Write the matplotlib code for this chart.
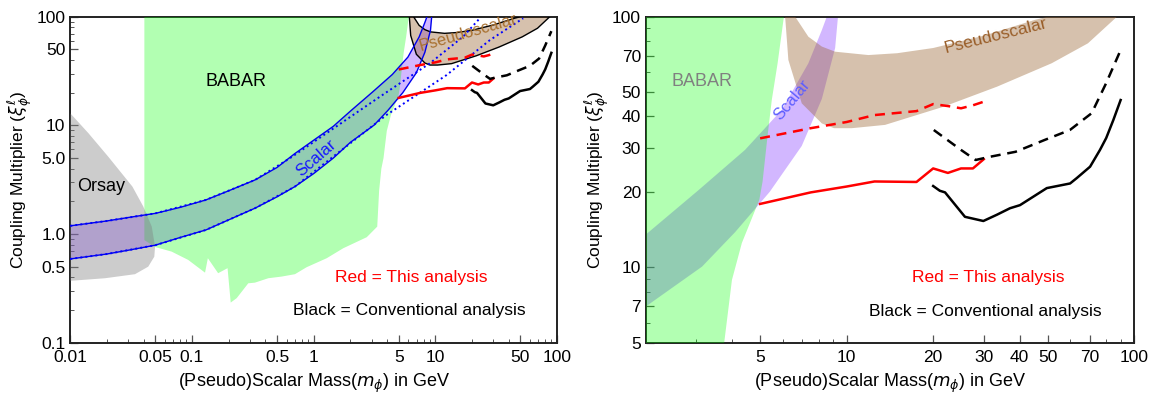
import numpy as np
import matplotlib.pyplot as plt
from matplotlib.ticker import FixedLocator, FixedFormatter, LogLocator, NullFormatter

plt.rcParams['font.family'] = ['Liberation Sans', 'DejaVu Sans']
plt.rcParams['mathtext.fontset'] = 'dejavusans'

# ---- data (GeV, coupling multiplier) ----
# Orsay excluded region
orsay_x = [0.01, 0.0141, 0.0205, 0.0324, 0.0398, 0.0467, 0.0497, 0.049, 0.0437, 0.034, 0.0193, 0.01]
orsay_y = [12.9, 8.46, 5.15, 2.73, 1.79, 1.17, 0.766, 0.619, 0.501, 0.427, 0.392, 0.371]

# BABAR excluded region (outline, clockwise from top left)
babar_x = [0.0406, 0.0406, 0.0497, 0.068, 0.093, 0.128, 0.135, 0.164, 0.196, 0.208, 0.233,
           0.290, 0.329, 0.424, 0.546, 0.702, 0.875, 1.28, 1.75, 2.73, 3.33, 3.45, 3.6,
           3.75, 3.99, 4.32, 4.97, 5.1, 5.3, 5.49, 5.75, 6.05]
babar_y = [100, 0.88, 0.76, 0.689, 0.578, 0.441, 0.599, 0.436, 0.485, 0.234, 0.257,
           0.352, 0.357, 0.392, 0.406, 0.427, 0.495, 0.599, 0.74, 0.935, 1.17, 2.5, 4.0,
           5.0, 8.9, 12.5, 18.6, 22.0, 33.0, 46.5, 65.0, 100]

# Scalar band edges
scalar_hi_x = [0.01, 0.02, 0.03, 0.05, 0.08, 0.13, 0.2, 0.33, 0.5, 0.7, 1.0, 1.45, 2.0,
               3.05, 4.43, 5.95, 7.36, 8.2, 8.53]
scalar_hi_y = [1.19, 1.32, 1.42, 1.55, 1.76, 2.06, 2.5, 3.15, 4.1, 5.5, 7.3, 9.8, 13.5,
               20.3, 29.4, 42.5, 65.2, 88.5, 100]
scalar_lo_x = [0.01, 0.02, 0.03, 0.05, 0.08, 0.13, 0.2, 0.33, 0.5, 0.7, 1.0, 1.45, 2.0,
               3.14, 4.09, 5.4, 6.98, 8.2, 9.12, 9.33]
scalar_lo_y = [0.59, 0.655, 0.71, 0.79, 0.93, 1.09, 1.35, 1.73, 2.2, 2.73, 3.6, 5.0, 6.97,
               10.06, 13.8, 20.0, 30.5, 47.0, 75.0, 100]

# dotted scalar curves (left panel)
dotA_x = [0.01, 0.02, 0.05, 0.13, 0.33, 0.64, 3.51, 9.03, 16.9, 23.2]
dotA_y = [1.19, 1.32, 1.55, 2.06, 3.15, 5.0, 18.4, 37.3, 65.5, 96.7]
dotB_x = [0.01, 0.02, 0.05, 0.13, 0.33, 0.7, 3.98, 12.4, 28.1, 52.7]
dotB_y = [0.59, 0.655, 0.79, 1.09, 1.73, 2.73, 12.5, 29.1, 61.0, 96.7]

# Pseudoscalar band edges
pseudo_hi_x = [6.62, 7.36, 8.2, 9.12, 11.9, 15.0, 20.0, 30.0, 45.0, 50.0]
pseudo_hi_y = [100, 83.2, 76.0, 72.5, 70.3, 71.5, 75.0, 84.0, 97.0, 100]
pseudo_lo_x = [6.11, 6.27, 6.98, 8.2, 9.04, 10.42, 13.6, 21.7, 33.4, 51.7, 69.1, 87.2]
pseudo_lo_y = [100, 67.2, 45.1, 37.5, 35.9, 35.9, 37.0, 43.7, 52.6, 65.2, 78.3, 100]

# this analysis (red)
red_solid_x = [5, 7.5, 10, 12.5, 17.5, 20, 22.5, 25, 27.5, 30]
red_solid_y = [17.9, 19.9, 21.0, 22.0, 21.9, 24.8, 23.8, 24.8, 24.8, 27.0]
red_dash_x = [5, 7.5, 10, 12.5, 17.5, 20, 22.5, 25, 27.5, 30]
red_dash_y = [32.7, 35.9, 38.0, 40.5, 42.0, 44.8, 44.0, 43.1, 44.3, 45.8]

# conventional analysis (black)
black_solid_x = [20.0, 21.1, 22.0, 25.8, 29.9, 33.3, 37.0, 40.1, 49.7, 59.9, 63.2, 70.3, 76.1, 80.0, 84.7, 89.8]
black_solid_y = [21.1, 20.2, 19.9, 15.9, 15.3, 16.2, 17.2, 17.7, 20.7, 21.6, 22.7, 25.2, 29.4, 32.8, 38.7, 46.5]
black_dash_x = [20.1, 25.0, 28.1, 31.5, 38.7, 48.8, 59.8, 71.2, 79.9, 89.8]
black_dash_y = [35.3, 29.4, 26.8, 27.6, 28.9, 32.2, 35.3, 41.2, 54.2, 73.6]

GREEN = (0.0, 1.0, 0.0)
PURPLE = (0.5, 0.2, 1.0)
BROWN = (0.6, 0.4, 0.2)
GRAY = (0.5, 0.5, 0.5)


def band_poly(xh, yh, xl, yl):
    return list(xh) + list(xl[::-1]), list(yh) + list(yl[::-1])


def style_axes(ax, xmaj, xlab, ymaj, ylab):
    ax.set_xscale('log')
    ax.set_yscale('log')
    ax.xaxis.set_major_locator(FixedLocator(xmaj))
    ax.xaxis.set_major_formatter(FixedFormatter(xlab))
    ax.yaxis.set_major_locator(FixedLocator(ymaj))
    ax.yaxis.set_major_formatter(FixedFormatter(ylab))
    ax.xaxis.set_minor_locator(LogLocator(base=10, subs=np.arange(2, 10), numticks=20))
    ax.yaxis.set_minor_locator(LogLocator(base=10, subs=np.arange(2, 10), numticks=20))
    ax.xaxis.set_minor_formatter(NullFormatter())
    ax.yaxis.set_minor_formatter(NullFormatter())
    ax.tick_params(which='both', direction='in', top=False, right=False, labelsize=12.5,
                   color='#555555')
    ax.tick_params(axis='x', which='both', pad=5)
    ax.tick_params(which='major', length=6, width=0.9)
    ax.tick_params(which='minor', length=3, width=0.7)
    for s in ax.spines.values():
        s.set_linewidth(1.4)
        s.set_color('#222222')
    ax.set_xlabel(r'(Pseudo)Scalar Mass($m_{\phi}$) in GeV', fontsize=13, labelpad=5)
    ax.set_ylabel(r'Coupling Multiplier ($\xi_{\phi}^{\ell}$)', fontsize=12.5)


fig = plt.figure(figsize=(11.49, 3.94), dpi=100)
axL = fig.add_axes([0.0612, 0.1302, 0.4236, 0.8274])
axR = fig.add_axes([0.5620, 0.1302, 0.4250, 0.8274])

sx, sy = band_poly(scalar_hi_x, scalar_hi_y, scalar_lo_x, scalar_lo_y)
px, py = band_poly(pseudo_hi_x, pseudo_hi_y, pseudo_lo_x, pseudo_lo_y)

for ax in (axL, axR):
    ax.fill(sx, sy, color=PURPLE, alpha=0.35, lw=0, zorder=2)
    if ax is axL:
        ax.fill(px, py, facecolor=BROWN + (0.4,), edgecolor='black', lw=1.0, zorder=3)
    else:
        ax.fill(px, py, color=BROWN, alpha=0.4, lw=0, zorder=3)
    ax.fill(babar_x, babar_y, color=GREEN, alpha=0.3, lw=0, zorder=4)
    ax.fill(orsay_x, orsay_y, color=GRAY, alpha=0.4, lw=0, zorder=4.5)

    ax.plot(red_solid_x, red_solid_y, color='red', lw=1.8, zorder=6)
    ax.plot(red_dash_x, red_dash_y, color='red', lw=1.8, ls=(0, (4, 2.7)), zorder=6)
    ax.plot(black_solid_x, black_solid_y, color='black', lw=1.8, zorder=6)
    ax.plot(black_dash_x, black_dash_y, color='black', lw=1.8, ls=(0, (4, 2.7)), zorder=6)

# band outlines and dotted curves only on the left panel
axL.plot(scalar_hi_x, scalar_hi_y, color='#0000ee', lw=1.0, zorder=5)
axL.plot(scalar_lo_x, scalar_lo_y, color='#0000ee', lw=1.0, zorder=5)
axL.plot(dotA_x, dotA_y, color='blue', lw=1.4, ls=(0, (1, 1.6)), zorder=5)
axL.plot(dotB_x, dotB_y, color='blue', lw=1.4, ls=(0, (1, 1.6)), zorder=5)

axL.set_xlim(0.01, 100)
axL.set_ylim(0.1, 100)
style_axes(axL,
           [0.01, 0.05, 0.1, 0.5, 1, 5, 10, 50, 100],
           ['0.01', '0.05', '0.1', '0.5', '1', '5', '10', '50', '100'],
           [0.1, 0.5, 1, 5, 10, 50, 100],
           ['0.1', '0.5', '1.0', '5.0', '10', '50', '100'])
axL.yaxis.set_label_coords(-0.074, 0.5)

axR.set_xlim(2.0, 100)
axR.set_ylim(5, 100)
style_axes(axR,
           [5, 10, 20, 30, 40, 50, 70, 100],
           ['5', '10', '20', '30', '40', '50', '70', '100'],
           [5, 7, 10, 20, 30, 40, 50, 70, 100],
           ['5', '7', '10', '20', '30', '40', '50', '70', '100'])
axR.yaxis.set_label_coords(-0.072, 0.5)

# labels inside the panels
axL.text(0.34, 0.80, 'BABAR', transform=axL.transAxes, fontsize=13, ha='center',
         va='center', zorder=7)
axL.text(0.0179, 2.71, 'Orsay', fontsize=13, ha='center', va='center', zorder=7)
axL.text(1.05, 5.0, 'Scalar', color='#1515ff', fontsize=12, rotation=41,
         ha='center', va='center', zorder=7)
axL.text(18.5, 71, 'Pseudoscalar', color='#a8702f', fontsize=12, rotation=16,
         ha='center', va='center', zorder=7)
axL.text(0.70, 0.199, 'Red = This analysis', transform=axL.transAxes, color='red',
         fontsize=12.5, ha='center', va='center', zorder=7)
axL.text(0.696, 0.10, 'Black = Conventional analysis', transform=axL.transAxes,
         fontsize=12.5, ha='center', va='center', zorder=7)

axR.text(0.115, 0.80, 'BABAR', transform=axR.transAxes, color='#808080', fontsize=13,
         ha='center', va='center', zorder=7)
axR.text(6.45, 46.5, 'Scalar', color='#5e5eff', fontsize=12, rotation=50,
         ha='center', va='center', zorder=7)
axR.text(33, 84, 'Pseudoscalar', color='#9a5f2a', fontsize=12.5, rotation=14,
         ha='center', va='center', zorder=7)
axR.text(0.701, 0.20, 'Red = This analysis', transform=axR.transAxes, color='red',
         fontsize=12.5, ha='center', va='center', zorder=7)
axR.text(0.695, 0.097, 'Black = Conventional analysis', transform=axR.transAxes,
         fontsize=12.5, ha='center', va='center', zorder=7)

fig.savefig('out.png', dpi=100, facecolor='white')
